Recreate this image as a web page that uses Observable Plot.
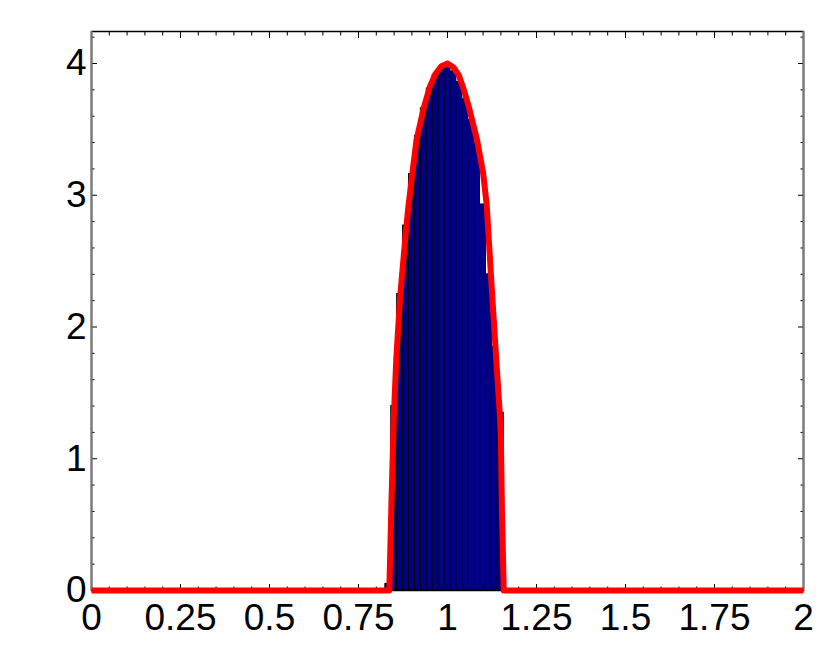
<!DOCTYPE html>
<html><head><meta charset="utf-8">
<script src="https://cdn.jsdelivr.net/npm/d3@7"></script>
<script src="https://cdn.jsdelivr.net/npm/@observablehq/plot@0.6"></script>
<style>body{margin:0;background:#fff}svg{display:block}</style>
</head><body><div id="chart"></div>
<script>
// Histogram bin edges (20 bins) and bar heights
const binEdges = [0.8255, 0.8421, 0.8587, 0.8754, 0.8920, 0.9086, 0.9252, 0.9418, 0.9585, 0.9751, 0.9917,
                  1.0083, 1.0249, 1.0416, 1.0582, 1.0748, 1.0914, 1.1080, 1.1247, 1.1413, 1.1579];
const binHeights = [0.05, 1.40, 2.25, 2.77, 3.16, 3.45, 3.66, 3.81, 3.91, 3.97,
                    3.98, 3.94, 3.86, 3.73, 3.57, 3.40, 2.93, 2.40, 1.85, 1.35];
// Theoretical density curve (red line)
const curveX = [0, 0.8365, 0.8427, 0.849, 0.856, 0.867, 0.881, 0.890, 0.901, 0.913, 0.934, 0.950, 0.966, 0.983, 1.000,
                1.017, 1.032, 1.046, 1.060, 1.083, 1.100, 1.110, 1.117, 1.126, 1.137, 1.146, 1.150, 1.153, 1.158, 2];
const curveY = [0, 0, 0.68, 1.30, 1.75, 2.23, 2.66, 2.91, 3.16, 3.42, 3.67, 3.82, 3.92, 3.98, 4.00,
                3.97, 3.91, 3.80, 3.67, 3.42, 3.17, 2.93, 2.62, 2.22, 1.75, 1.38, 1.15, 0.60, 0, 0];
// Axes
const xDomain = [0, 2];
const yDomain = [0, 4.243];
const xMajorTicks = [0, 0.25, 0.5, 0.75, 1, 1.25, 1.5, 1.75, 2];
const xTickLabels = ["0", "0.25", "0.5", "0.75", "1", "1.25", "1.5", "1.75", "2"];
const xMinorTicks = [0.05, 0.1, 0.15, 0.2, 0.3, 0.35, 0.4, 0.45, 0.55, 0.6, 0.65, 0.7, 0.8, 0.85, 0.9, 0.95,
                     1.05, 1.1, 1.15, 1.2, 1.3, 1.35, 1.4, 1.45, 1.55, 1.6, 1.65, 1.7, 1.8, 1.85, 1.9, 1.95];
const yMajorTicks = [0, 1, 2, 3, 4];
const yTickLabels = ["0", "1", "2", "3", "4"];
const yMinorTicks = [0.2, 0.4, 0.6, 0.8, 1.2, 1.4, 1.6, 1.8, 2.2, 2.4, 2.6, 2.8, 3.2, 3.4, 3.6, 3.8, 4.2];

const bins = binHeights.map((h, i) => ({x1: binEdges[i], x2: binEdges[i + 1], h}));
const curve = curveX.map((x, i) => ({x, y: curveY[i]}));

const tickStyle = {stroke: "#000", fill: "none", strokeWidth: 1};
const chart = Plot.plot({
  width: 831, height: 651,
  marginLeft: 91, marginRight: 28, marginTop: 31, marginBottom: 61,
  style: {fontFamily: '"Liberation Sans", Arial, Helvetica, sans-serif', fontSize: "37px", color: "#000", background: "#fff"},
  x: {domain: xDomain, label: null},
  y: {domain: yDomain, label: null},
  marks: [
    Plot.rectY(bins, {x1: "x1", x2: "x2", y: "h", fill: "#00008b", stroke: "#000", strokeWidth: 1}),
    Plot.axisX(xMajorTicks, {anchor: "bottom", tickSize: -6, ...tickStyle}),
    Plot.axisX(xMinorTicks, {anchor: "bottom", tickSize: -3.5, ...tickStyle}),
    Plot.axisX(xMajorTicks, {anchor: "top", tickSize: -6, ...tickStyle}),
    Plot.axisX(xMinorTicks, {anchor: "top", tickSize: -3.5, ...tickStyle}),
    Plot.axisY(yMajorTicks, {anchor: "left", tickSize: -6, ...tickStyle}),
    Plot.axisY(yMinorTicks, {anchor: "left", tickSize: -3.5, ...tickStyle}),
    Plot.axisY(yMajorTicks, {anchor: "right", tickSize: -6, ...tickStyle}),
    Plot.axisY(yMinorTicks, {anchor: "right", tickSize: -3.5, ...tickStyle}),
    Plot.frame({stroke: "#000", strokeWidth: 1.5}),
    Plot.ruleX(xDomain, {stroke: "#7a7a7a", strokeWidth: 2}),
    Plot.line(curve, {x: "x", y: "y", stroke: "#ff0000", strokeWidth: 6, strokeLinejoin: "round", strokeLinecap: "butt"}),
    Plot.axisX(xMajorTicks, {anchor: "bottom", tickSize: 0, tickPadding: 13, stroke: "none", fill: "#000",
      tickFormat: d => xTickLabels[xMajorTicks.indexOf(d)]}),
    Plot.axisY(yMajorTicks, {anchor: "left", tickSize: 0, tickPadding: 5, stroke: "none", fill: "#000",
      tickFormat: d => yTickLabels[yMajorTicks.indexOf(d)]})
  ]
});
document.getElementById("chart").append(chart);
</script>
</body></html>
